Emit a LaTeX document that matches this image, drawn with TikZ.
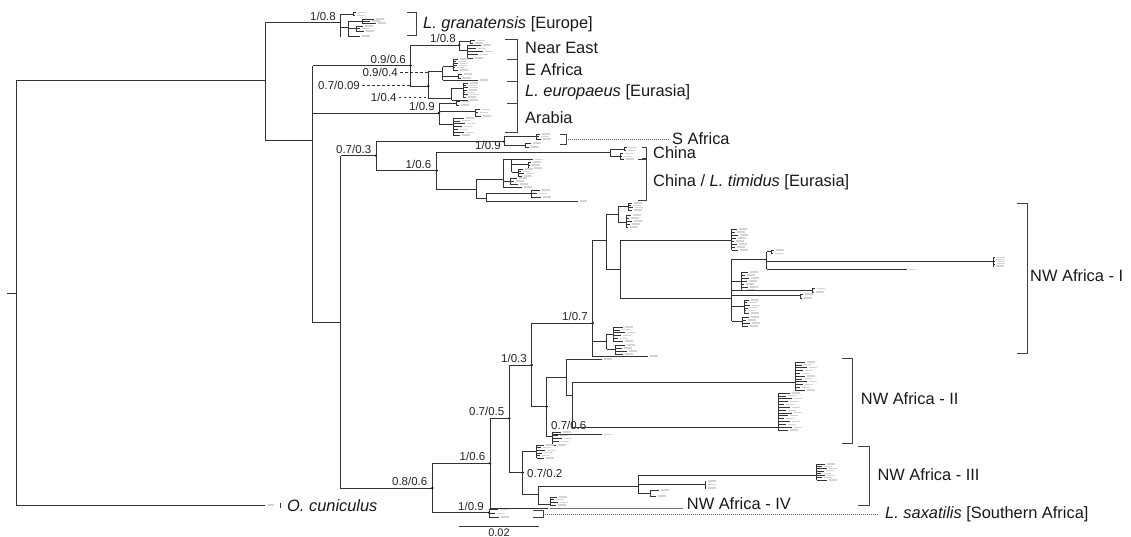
\documentclass[tikz,border=0pt]{standalone}
\usepackage{fontspec}
\setmainfont{Liberation Sans}
\tikzset{
  br/.style={line width=0.95pt, draw=black!80},
  tbr/.style={line width=0.6pt, draw=black!80},
  tiplab/.style={line width=1.1pt, draw=black!17},
  brk/.style={line width=1pt, draw=black!75},
  grp/.style={font=\fontsize{16.4}{18}\selectfont, anchor=base west, inner sep=0pt, text=black!90},
  suplab/.style={font=\fontsize{11.5}{13}\selectfont, anchor=base east, inner sep=0pt, text=black!85},
  leaderdash/.style={line width=0.8pt, draw=black!80, dash pattern=on 2.5pt off 2.5pt},
  leaderdot/.style={line width=0.8pt, draw=black!60, dash pattern=on 0.8pt off 1.2pt},
}
\newcommand{\tuft}[5]{%
  \draw[tbr] (#1,#2) -- (#1,#3);
  \foreach \i in {1,...,#4}{%
    \pgfmathsetmacro\yy{#2+(\i-1)*(#3-#2)/max(#4-1,1)}%
    \pgfmathsetmacro\ll{#5*(0.4+0.6*mod(\i*3,5)/4)}%
    \draw[tbr] (#1,\yy) -- ++(\ll,0);
    \draw[tiplab] ({#1+\ll+2},\yy) -- ++(8,0);
  }%
}
\newcommand{\nd}[2]{\fill[black] (#1,#2) circle (1.3pt);}
\begin{document}
\begin{tikzpicture}[x=1pt,y=-1pt]
\fill[white] (0,0) rectangle (1131,537);
\path[use as bounding box] (0,0) rectangle (1131,537);

% ---------- root ----------
\draw[br] (7,293) -- (16,293);
\draw[br] (265,80) -- (16,80) -- (16,505) -- (265,505);
\draw[tiplab] (268,505) -- (274,505);
\draw[tbr] (280,502.5) -- (280,507.5);
\node[grp] (ocun) at (287,511.5) {\textit{O. cuniculus}};

% ---------- granatensis ----------
\draw[br] (340.7,22.7) -- (265,22.7) -- (265,140) -- (312.7,140);
\node[suplab] (s1) at (336,20.2) {1/0.8};
\draw[tbr] (340.7,14) -- (340.7,36.7);
\draw[tbr] (340.7,14) -- (353,14); \tuft{353}{12.5}{15.5}{2}{4}
\draw[tbr] (340.7,27) -- (348.3,27); \draw[tbr] (348.3,21) -- (348.3,36);
\draw[tbr] (348.3,21) -- (362,21); \tuft{362}{19}{23}{3}{14}
\draw[tbr] (348.3,28) -- (356,28); \tuft{356}{26}{31}{3}{8}
\draw[tbr] (348.3,36) -- (360,36); \draw[tiplab] (362,36) -- (370,36);
\draw[brk] (407,12.7) -- (416.7,12.7) -- (416.7,36) -- (407,36);
\node[grp] (gran) at (423,28.3) {\textit{L. granatensis} [Europe]};

% ---------- Near East / E Africa / europaeus / Arabia ----------
\draw[br] (312.7,65.7) -- (312.7,322) -- (340.7,322);
\draw[br] (312.7,65.7) -- (410.7,65.7); \nd{410.7}{65.7}
\node[suplab] (s2) at (406,63.2) {0.9/0.6};
\draw[br] (459.3,45) -- (410.7,45) -- (410.7,86) -- (428.3,86);
\nd{459.3}{45}
\node[suplab] (s3) at (456,42.5) {1/0.8};
\draw[tbr] (459.3,41.7) -- (459.3,50);
\draw[tbr] (459.3,41.7) -- (470,41.7); \tuft{470}{40.5}{43}{2}{6}
\draw[tbr] (459.3,50) -- (467,50); \tuft{467}{45}{58}{5}{16}

\draw[br] (442.7,71.7) -- (428.3,71.7) -- (428.3,98.3) -- (451.7,98.3);
\nd{428.3}{86}
\draw[tbr] (442.7,66.7) -- (442.7,80);
\draw[tbr] (442.7,66.7) -- (453.3,66.7); \tuft{453.3}{59}{70}{6}{5}
\draw[tbr] (442.7,76) -- (458,76); \tuft{458}{74}{78}{2}{5}
\draw[tbr] (442.7,80) -- (478,80); \draw[tiplab] (480,80) -- (488,80);
\draw[tbr] (451.7,88) -- (451.7,100);
\draw[tbr] (451.7,88) -- (463.3,88); \tuft{463.3}{83}{97}{7}{5}
\draw[tbr] (451.7,100) -- (468,100); \draw[tiplab] (470,100) -- (478,100);

\node[suplab] (d1) at (398,76.7) {0.9/0.4};
\coordinate (e1) at (428.3,72.7);
\draw[leaderdash] (d1.east) ++(2,0) -- (d1.east -| e1);
\node[suplab] (d2) at (360,90) {0.7/0.09};
\coordinate (e2) at (410.7,86);
\draw[leaderdash] (d2.east) ++(2,0) -- (d2.east -| e2);
\node[suplab] (d3) at (396.7,101.7) {1/0.4};
\coordinate (e3) at (428.3,98.3);
\draw[leaderdash] (d3.east) ++(2,0) -- (d3.east -| e3);

\draw[br] (312.7,113) -- (439,113); \nd{439}{113}
\node[suplab] (s4) at (435,110.5) {1/0.9};
\draw[tbr] (439,103.3) -- (439,124);
\draw[tbr] (439,103.3) -- (456,103.3); \tuft{456}{101.5}{105}{2}{5}
\draw[tbr] (439,111.7) -- (475,111.7); \tuft{475}{109.5}{116}{3}{6}
\draw[tbr] (439,124) -- (453.3,124); \tuft{453.3}{118}{135}{7}{12}

\draw[brk] (505,40) -- (517.3,40) -- (517.3,132.7) -- (505,132.7);
\foreach \y in {59.3,81.7,104} \draw[brk] (506.7,\y) -- (517.3,\y);
\node[grp] (ne) at (525,54) {Near East};
\node[grp] (ea) at (525,76) {E Africa};
\node[grp] (eu) at (525,96.7) {\textit{L. europaeus} [Eurasia]};
\node[grp] (ar) at (525,123.3) {Arabia};

% ---------- S Africa / China ----------
\draw[br] (340.7,155.7) -- (340.7,488) -- (432.3,488);
\draw[br] (340.7,155.7) -- (376,155.7); \nd{376}{155.7}
\node[suplab] (s5) at (371.5,153.2) {0.7/0.3};
\draw[br] (504,141.7) -- (376,141.7) -- (376,170.7) -- (436.7,170.7);
\nd{436.7}{170.7}
\node[suplab] (s6) at (431.5,168.2) {1/0.6};
\nd{504}{141.7}
\draw[tbr] (504,136.5) -- (504,145);
\draw[tbr] (504,136.5) -- (536,136.5); \tuft{536}{134}{139}{3}{5}
\draw[tbr] (504,145) -- (525,145); \tuft{525}{143}{147}{2}{7}
\draw[brk] (560,135) -- (566.7,135) -- (566.7,145) -- (560,145);
\coordinate (sab) at (567.5,139.3);
\node[grp] (safr) at (672,144.5) {S Africa};
\draw[leaderdot] (sab) -- ([xshift=-4pt]sab -| safr.west);
\node[suplab] (s7) at (501,150) {1/0.9};

\draw[br] (610,152.3) -- (436.7,152.3) -- (436.7,189) -- (476,189);
\draw[tbr] (610,149) -- (610,156.5);
\draw[tbr] (610,149) -- (624,149); \tuft{624}{147.5}{150.5}{2}{3}
\draw[tbr] (610,156.5) -- (620,156.5); \tuft{620}{153.5}{159}{3}{4}
\draw[brk] (641.7,147.3) -- (646.7,147.3) -- (646.7,158.3) -- (641.7,158.3);
\node[grp] (chn) at (653,158.3) {China};
\draw[brk] (638,160) -- (646.7,160) -- (646.7,201) -- (638,201);
\node[grp] (tim) at (653,186.5) {China / \textit{L. timidus} [Eurasia]};

\draw[br] (503.3,179.3) -- (476,179.3) -- (476,198.3) -- (486,198.3);
\draw[tbr] (503.3,159.3) -- (503.3,187);
\draw[tbr] (503.3,159.3) -- (511.7,159.3);
\draw[tbr] (511.7,159.3) -- (511.7,172);
\draw[tbr] (511.7,159.3) -- (533,159.3); \draw[tiplab] (535,159.3) -- (543,159.3);
\draw[tbr] (511.7,164) -- (528,164); \tuft{528}{162}{168}{3}{4}
\draw[tbr] (511.7,172) -- (518,172); \tuft{518}{169}{176}{4}{6}
\draw[tbr] (503.3,181) -- (510,181); \tuft{510}{178}{184}{3}{8}
\draw[tbr] (503.3,187) -- (522,187); \draw[tiplab] (524,187) -- (532,187);
\draw[tbr] (486,193.3) -- (486,201);
\draw[tbr] (486,193.3) -- (531,193.3); \tuft{531}{190}{197}{3}{10}
\draw[tbr] (486,201) -- (578.3,201); \draw[tiplab] (580,201) -- (587,201);

% ---------- NW Africa ----------
\draw[br] (490,463.3) -- (432.3,463.3) -- (432.3,512.7) -- (489,512.7);
\nd{432.3}{488}
\node[suplab] (s8) at (427.5,485.5) {0.8/0.6};
\nd{490}{463.3}
\node[suplab] (s9) at (485.5,460.8) {1/0.6};
\draw[br] (509.3,418.3) -- (490,418.3) -- (490,508) -- (548,508);
\nd{509.3}{418.3}
\node[suplab] (s10) at (504.5,415.8) {0.7/0.5};
\draw[br] (531.7,365) -- (509.3,365) -- (509.3,472.7) -- (522.7,472.7);
\nd{531.7}{365}
\node[suplab] (s11) at (527,362.5) {1/0.3};
\draw[br] (592.7,323) -- (531.7,323) -- (531.7,406.7) -- (546.7,406.7);
\nd{592.7}{323}
\node[suplab] (s12) at (588,320.5) {1/0.7};
\nd{546.7}{406.7}
\node[suplab, anchor=base west] (s13) at (551,429) {0.7/0.6};
\nd{522.7}{472.7}
\node[suplab, anchor=base west] (s14) at (527,477) {0.7/0.2};

% NW Africa I
\draw[br] (606.7,240.7) -- (592.7,240.7) -- (592.7,356) -- (648,356);
\draw[tiplab] (650,356) -- (658,356);
\draw[br] (592.7,341.7) -- (606.7,341.7);
\draw[tbr] (606.7,334) -- (606.7,349.3);
\draw[tbr] (606.7,334) -- (613,334); \tuft{613}{327}{341}{6}{12}
\draw[tbr] (606.7,349.3) -- (615,349.3); \tuft{615}{345}{354}{4}{12}
\draw[br] (618,214) -- (606.7,214) -- (606.7,269.3) -- (620,269.3);
\draw[tbr] (618,206) -- (618,222);
\draw[tbr] (618,206) -- (628,206); \tuft{628}{203}{210}{4}{5}
\draw[tbr] (618,222) -- (626,222); \tuft{626}{215}{227}{5}{6}
\draw[br] (731.7,240) -- (620,240) -- (620,298.3) -- (731.7,298.3);
\tuft{731.7}{229}{250}{8}{6}
\draw[br] (731.7,259) -- (731.7,321);
\draw[br] (731.7,259) -- (766.7,259);
\draw[br] (766.7,251.7) -- (766.7,269.3);
\draw[tbr] (766.7,251.7) -- (771,251.7); \tuft{771}{250}{253.5}{2}{3}
\draw[br] (766.7,261.7) -- (993.3,261.7); \tuft{993.3}{257.5}{266}{5}{2}
\draw[br] (766.7,269.3) -- (906.7,269.3); \draw[tiplab] (909,269.3) -- (917,269.3);
\draw[tbr] (731.7,281) -- (741,281); \tuft{741}{272}{290}{7}{8}
\draw[tbr] (731.7,290.5) -- (812,290.5); \tuft{812}{288.5}{292}{2}{4}
\draw[tbr] (731.7,295.7) -- (800,295.7); \tuft{800}{294}{298}{2}{3}
\draw[tbr] (731.7,306) -- (744,306); \tuft{744}{300}{313}{6}{6}
\draw[tbr] (731.7,321) -- (742,321); \tuft{742}{317}{326}{4}{8}

% NW Africa II
\draw[br] (566.7,377.3) -- (546.7,377.3) -- (546.7,436.7) -- (552,436.7);
\draw[br] (566.7,359) -- (566.7,395) -- (572.7,395);
\draw[br] (566.7,359) -- (601.7,359); \draw[tiplab] (604,359) -- (612,359);
\draw[br] (795,382.3) -- (572.7,382.3) -- (572.7,427.7) -- (778.3,427.7);
\tuft{795}{362}{390}{11}{12}
\tuft{778.3}{393}{430}{14}{14}
\tuft{552}{432}{445}{5}{10}
\draw[tbr] (552,434.3) -- (601.7,434.3); \draw[tiplab] (604,434.3) -- (612,434.3);

% NW Africa III
\draw[br] (536.7,451.7) -- (522.7,451.7) -- (522.7,494) -- (538.3,494);
\tuft{536.7}{445}{458}{6}{8}
\draw[br] (638.3,486.7) -- (538.3,486.7) -- (538.3,504) -- (550,504);
\tuft{550}{497}{505}{4}{8}
\draw[br] (816.7,475) -- (638.3,475) -- (638.3,493.3) -- (650,493.3);
\draw[br] (638.3,484.3) -- (705,484.3); \tuft{705}{481}{488}{3}{1}
\tuft{816.7}{464}{480}{8}{10}
\tuft{650}{490}{496}{2}{10}

% NW Africa IV
\draw[line width=0.9pt, draw=black!55] (550,508) -- (683,508);
\node[grp] (nw4) at (686.7,509.3) {NW Africa - IV};

% L. saxatilis
\nd{489}{512.7}
\node[suplab] (s15) at (484,510.2) {1/0.9};
\tuft{489}{509.5}{517}{3}{10}
\draw[brk] (533,510) -- (543.3,510) -- (543.3,517.3) -- (533,517.3);
\coordinate (sxb) at (544.5,514.5);
\node[grp] (sax) at (885,518.3) {\textit{L. saxatilis} [Southern Africa]};
\draw[leaderdot] (sxb) -- ([xshift=-8pt]sxb -| sax.west);

% brackets NW Africa
\draw[brk] (1016.7,204) -- (1027.3,204) -- (1027.3,353.3) -- (1016.7,353.3);
\node[grp] (nw1) at (1030,281.7) {NW Africa - I};
\draw[brk] (841.7,358.3) -- (852.7,358.3) -- (852.7,443.3) -- (841.7,443.3);
\node[grp] (nw2) at (860.7,404.3) {NW Africa - II};
\draw[brk] (858.3,446.7) -- (869.3,446.7) -- (869.3,505) -- (858.3,505);
\node[grp] (nw3) at (877.3,480) {NW Africa - III};

% scale bar
\draw[line width=0.9pt, draw=black!80] (459,526) -- (539,526);
\node[font=\fontsize{11}{12}\selectfont, inner sep=0pt, text=black!85] (scl) at (499,533) {0.02};
\end{tikzpicture}
\end{document}
